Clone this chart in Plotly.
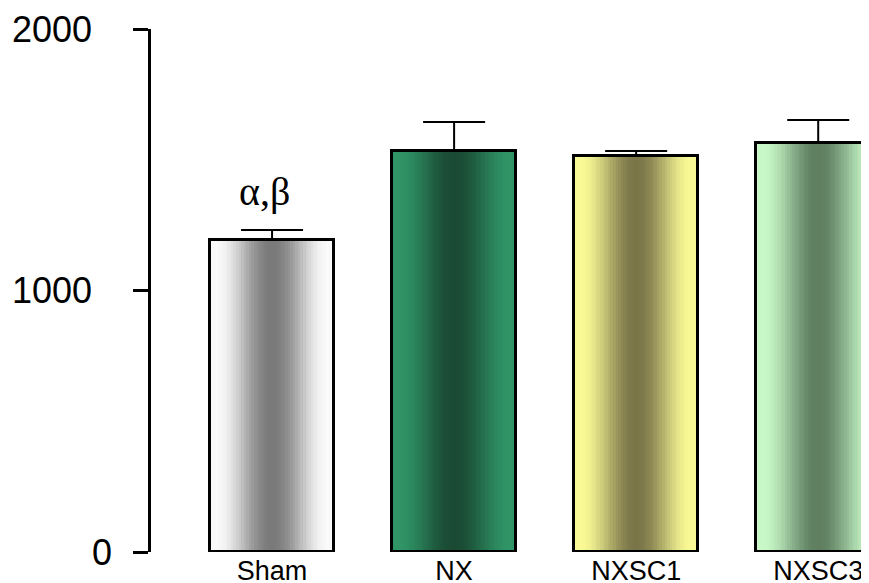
import numpy as np
import plotly.graph_objects as go

categories = ["Sham", "NX", "NXSC1", "NXSC3"]
means = [1193, 1533, 1514, 1564]
err_plus = [38, 111, 19, 88]
edge_colors = [(250, 250, 250), (47, 148, 102), (250, 250, 150), (200, 248, 200)]
center_colors = [(122, 122, 122), (26, 74, 51), (122, 117, 72), (95, 127, 96)]
y_ticks = [0, 1000, 2000]
y_ticklabels = ["", "1000", "2000"]
annot_text = "α,β"

BAR_W = 0.68
N = 48

fig = go.Figure()

def mix(c1, c2, f):
    return "rgb(%d,%d,%d)" % tuple(round(a + (b - a) * f) for a, b in zip(c1, c2))

strip_w = BAR_W / N
for k in range(N):
    xc = -1 + (k + 0.5) * 2 / N
    d = min(abs(xc) / 0.92, 1.0)
    f = 0.5 * (1 + np.cos(np.pi * d))
    cols = [mix(e, c, f) for e, c in zip(edge_colors, center_colors)]
    off = -BAR_W / 2 + k * strip_w
    w = strip_w * (1.6 if k < N - 1 else 1.0)
    fig.add_trace(go.Bar(
        x=categories, y=means, width=[w] * 4, offset=[off] * 4,
        marker=dict(color=cols, line=dict(width=0)),
        showlegend=False, hoverinfo="skip"))

fig.add_trace(go.Bar(
    x=categories, y=means, width=[BAR_W] * 4,
    marker=dict(color="rgba(0,0,0,0)", line=dict(color="black", width=3)),
    error_y=dict(type="data", array=err_plus, arrayminus=[0] * 4, symmetric=False,
                 color="black", thickness=2, width=31),
    showlegend=False))

fig.add_annotation(x="Sham", y=1377, text=annot_text, showarrow=False, xshift=-8,
                   font=dict(family="Liberation Serif, Times New Roman, serif", size=40, color="black"))

# zero label sits closer to the axis in the reference
fig.add_annotation(x=0, xref="paper", y=y_ticks[0], yref="y", text=str(y_ticks[0]),
                   showarrow=False, xanchor="right", yanchor="middle", xshift=-37,
                   font=dict(family="Liberation Sans, Arial, sans-serif", size=36, color="black"))

fig.update_layout(
    width=861, height=575, barmode="overlay", bargap=0,
    margin=dict(l=143, r=0, t=21, b=31, autoexpand=False),
    plot_bgcolor="white", paper_bgcolor="white",
    xaxis=dict(range=[-0.665, 3.279], showline=False, ticks="", showgrid=False, zeroline=False,
               automargin=False,
               tickfont=dict(family="Liberation Sans, Arial, sans-serif", size=27, color="black"),
               ticklabelstandoff=0),
    yaxis=dict(range=[0, 2000], tickvals=y_ticks, ticktext=y_ticklabels,
               automargin=False,
               showline=True, linecolor="black", linewidth=2.5, ticks="outside", ticklen=15,
               tickwidth=2.5, tickcolor="black", showgrid=False, zeroline=False,
               tickfont=dict(family="Liberation Sans, Arial, sans-serif", size=36, color="black"),
               ticklabelstandoff=34),
)

fig.write_html("out.html")
